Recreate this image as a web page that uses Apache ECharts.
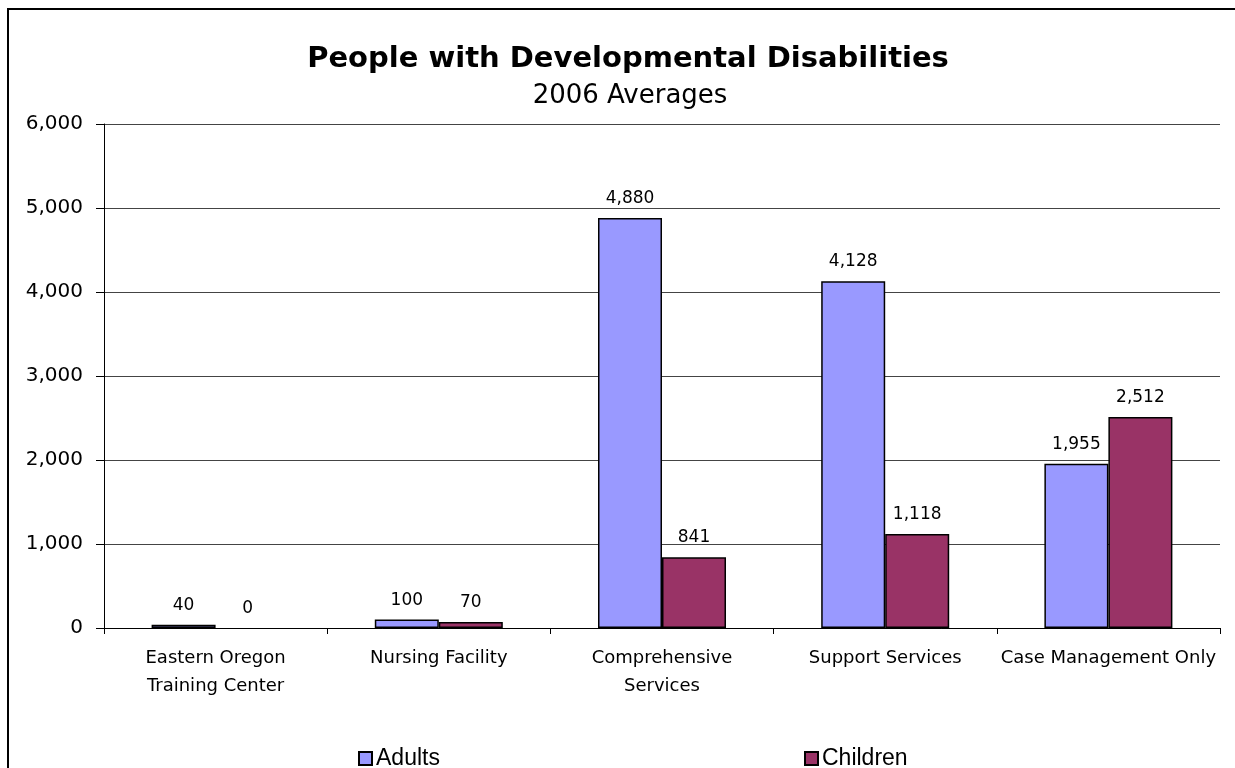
<!DOCTYPE html>
<html>
<head>
<meta charset="utf-8">
<script src="https://cdn.jsdelivr.net/npm/echarts@6/dist/echarts.min.js"></script>
<style>
html,body{margin:0;padding:0;background:#fff;}
#c{width:1235px;height:768px;}
</style>
</head>
<body>
<div id="c"></div>
<script>
const categories = ['Eastern Oregon\nTraining Center', 'Nursing Facility', 'Comprehensive\nServices', 'Support Services', 'Case Management Only'];
const adults = [40, 100, 4880, 4128, 1955];
const children = [0, 70, 841, 1118, 2512];
const seriesNames = ['Adults', 'Children'];
const titleText = 'People with Developmental Disabilities';
const subtitleText = '2006 Averages';

const FONT = 'DejaVu Sans';
const fmt = v => Number(v).toLocaleString('en-US');
// hide border on zero-height bars
const toItems = arr => arr.map(v => v === 0 ? {value: v, itemStyle: {borderWidth: 0}} : v);

const chart = echarts.init(document.getElementById('c'), null, {renderer: 'canvas'});
chart.setOption({
  backgroundColor: '#ffffff',
  animation: false,
  graphic: [{
    type: 'rect',
    shape: {x: 8, y: 9, width: 1260, height: 800},
    style: {fill: 'none', stroke: '#000', lineWidth: 2},
    silent: true
  }],
  title: [{
    text: titleText,
    left: 623, top: 40, textAlign: 'center',
    textStyle: {fontFamily: FONT, fontWeight: 'bold', fontSize: 29, color: '#000'}
  }, {
    text: subtitleText,
    left: 625, top: 78, textAlign: 'center',
    textStyle: {fontFamily: FONT, fontWeight: 'normal', fontSize: 26, color: '#000'}
  }],
  legend: [{
    data: [seriesNames[0]], left: 353, top: 742, icon: 'rect',
    itemWidth: 13, itemHeight: 13, itemGap: 4,
    textStyle: {fontFamily: 'Liberation Sans', fontSize: 23, color: '#000', padding: [0,0,0,-1]}
  }, {
    data: [seriesNames[1]], left: 799, top: 742, icon: 'rect',
    itemWidth: 13, itemHeight: 13, itemGap: 4,
    textStyle: {fontFamily: 'Liberation Sans', fontSize: 23, color: '#000', padding: [0,0,0,-1]}
  }],
  grid: {left: 104, right: 15, top: 124, bottom: 140, containLabel: false},
  xAxis: {
    type: 'category', data: categories,
    axisLine: {show: true, lineStyle: {color: '#000', width: 1}},
    axisTick: {show: true, alignWithLabel: false, length: 6, lineStyle: {color: '#000'}},
    axisLabel: {interval: 0, margin: 16, fontFamily: FONT, fontSize: 18, lineHeight: 28, color: '#000'},
    splitLine: {show: false}
  },
  yAxis: {
    type: 'value', min: 0, max: 6000, interval: 1000,
    axisLine: {show: true, lineStyle: {color: '#000', width: 1}},
    axisTick: {show: true, length: 8, lineStyle: {color: '#000'}},
    axisLabel: {margin: 21, fontFamily: FONT, fontSize: 20, color: '#000', formatter: v => fmt(v)},
    splitLine: {show: true, lineStyle: {color: '#444', width: 1}}
  },
  series: [{
    name: seriesNames[0], type: 'bar', data: toItems(adults), barWidth: 64, barGap: '0%',
    itemStyle: {color: '#9999FF', borderColor: '#000', borderWidth: 1.5},
    label: {show: true, position: 'top', distance: 11, fontFamily: FONT, fontSize: 17, color: '#000', formatter: p => fmt(p.value)}
  }, {
    name: seriesNames[1], type: 'bar', data: toItems(children), barWidth: 64, barGap: '0%',
    itemStyle: {color: '#993366', borderColor: '#000', borderWidth: 1.5},
    label: {show: true, position: 'top', distance: 11, fontFamily: FONT, fontSize: 17, color: '#000', formatter: p => fmt(p.value)}
  }]
});
</script>
</body>
</html>
